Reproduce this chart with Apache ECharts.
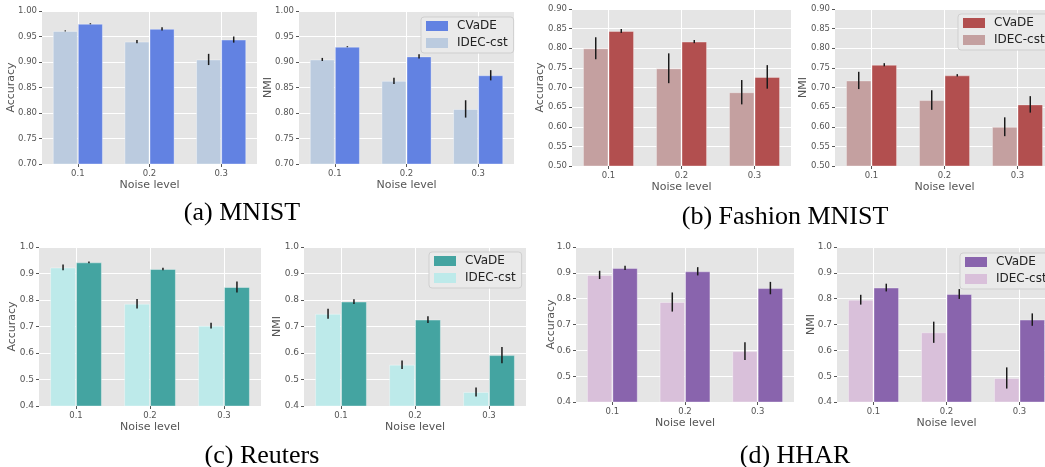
<!DOCTYPE html>
<html>
<head>
<meta charset="utf-8">
<script src="https://cdn.jsdelivr.net/npm/echarts@6/dist/echarts.min.js"></script>
<style>
  html, body { margin: 0; padding: 0; background: #fff; }
  #echarts { width: 1045px; height: 467px; }
</style>
</head>
<body>
<div id="echarts"></div>
<script>
var noiseLevels = ['0.1', '0.2', '0.3'];

// (a) MNIST
var mnistAccIdec = [0.961, 0.940, 0.905];
var mnistAccIdecErr = [0.001, 0.003, 0.011];
var mnistAccCvade = [0.975, 0.965, 0.944];
var mnistAccCvadeErr = [0.001, 0.003, 0.006];
var mnistNmiIdec = [0.905, 0.863, 0.808];
var mnistNmiIdecErr = [0.003, 0.006, 0.017];
var mnistNmiCvade = [0.930, 0.911, 0.874];
var mnistNmiCvadeErr = [0.001, 0.004, 0.010];
// (b) Fashion MNIST
var fashionAccIdec = [0.800, 0.749, 0.688];
var fashionAccIdecErr = [0.028, 0.038, 0.031];
var fashionAccCvade = [0.844, 0.817, 0.727];
var fashionAccCvadeErr = [0.005, 0.004, 0.030];
var fashionNmiIdec = [0.718, 0.668, 0.600];
var fashionNmiIdecErr = [0.022, 0.025, 0.024];
var fashionNmiCvade = [0.758, 0.731, 0.657];
var fashionNmiCvadeErr = [0.004, 0.003, 0.021];
// (c) Reuters
var reutersAccIdec = [0.923, 0.786, 0.703];
var reutersAccIdecErr = [0.011, 0.018, 0.011];
var reutersAccCvade = [0.942, 0.917, 0.849];
var reutersAccCvadeErr = [0.003, 0.005, 0.021];
var reutersNmiIdec = [0.748, 0.556, 0.453];
var reutersNmiIdecErr = [0.019, 0.016, 0.017];
var reutersNmiCvade = [0.794, 0.726, 0.592];
var reutersNmiCvadeErr = [0.009, 0.013, 0.031];
// (d) HHAR
var hharAccIdec = [0.892, 0.787, 0.597];
var hharAccIdecErr = [0.016, 0.037, 0.034];
var hharAccCvade = [0.919, 0.906, 0.841];
var hharAccCvadeErr = [0.008, 0.016, 0.024];
var hharNmiIdec = [0.796, 0.670, 0.493];
var hharNmiIdecErr = [0.019, 0.041, 0.041];
var hharNmiCvade = [0.843, 0.818, 0.719];
var hharNmiCvadeErr = [0.015, 0.019, 0.024];

var mnistColors = { cvade: '#6282e2', idec: '#bbcbdf' };
var fashionColors = { cvade: '#b24f4f', idec: '#c4a0a0' };
var reutersColors = { cvade: '#44a4a1', idec: '#bdeaea' };
var hharColors = { cvade: '#8964ad', idec: '#d9c0da' };

// box = [left, top, width, height]
var panels = [
    { box: [42, 11, 215, 153], yName: 'Accuracy', yGap: 25, min: 0.7, max: 1.0, step: 0.05, digits: 2, fs: 8.5,
      idec: mnistAccIdec, idecErr: mnistAccIdecErr, cvade: mnistAccCvade, cvadeErr: mnistAccCvadeErr, colors: mnistColors },
    { box: [299, 11, 215, 153], yName: 'NMI', yGap: 25, min: 0.7, max: 1.0, step: 0.05, digits: 2, fs: 8.5,
      idec: mnistNmiIdec, idecErr: mnistNmiIdecErr, cvade: mnistNmiCvade, cvadeErr: mnistNmiCvadeErr, colors: mnistColors,
      legend: [421, 17] },
    { box: [572, 9, 219, 157], yName: 'Accuracy', yGap: 26, min: 0.5, max: 0.9, step: 0.05, digits: 2, fs: 8.5,
      idec: fashionAccIdec, idecErr: fashionAccIdecErr, cvade: fashionAccCvade, cvadeErr: fashionAccCvadeErr, colors: fashionColors },
    { box: [835, 9, 219, 157], yName: 'NMI', yGap: 26.5, min: 0.5, max: 0.9, step: 0.05, digits: 2, fs: 8.5,
      idec: fashionNmiIdec, idecErr: fashionNmiIdecErr, cvade: fashionNmiCvade, cvadeErr: fashionNmiCvadeErr, colors: fashionColors,
      legend: [958, 14] },
    { box: [39, 247, 222, 159], yName: 'Accuracy', yGap: 21.5, min: 0.4, max: 1.0, step: 0.1, digits: 1, fs: 9,
      idec: reutersAccIdec, idecErr: reutersAccIdecErr, cvade: reutersAccCvade, cvadeErr: reutersAccCvadeErr, colors: reutersColors },
    { box: [304, 247, 222, 159], yName: 'NMI', yGap: 21, min: 0.4, max: 1.0, step: 0.1, digits: 1, fs: 9,
      idec: reutersNmiIdec, idecErr: reutersNmiIdecErr, cvade: reutersNmiCvade, cvadeErr: reutersNmiCvadeErr, colors: reutersColors,
      legend: [429, 252] },
    { box: [576, 247, 218, 155], yName: 'Accuracy', yGap: 19.5, min: 0.4, max: 1.0, step: 0.1, digits: 1, fs: 9,
      idec: hharAccIdec, idecErr: hharAccIdecErr, cvade: hharAccCvade, cvadeErr: hharAccCvadeErr, colors: hharColors },
    { box: [837, 247, 219, 155], yName: 'NMI', yGap: 20, min: 0.4, max: 1.0, step: 0.1, digits: 1, fs: 9,
      idec: hharNmiIdec, idecErr: hharNmiIdecErr, cvade: hharNmiCvade, cvadeErr: hharNmiCvadeErr, colors: hharColors,
      legend: [960, 253] }
];

var captions = [
    { text: '(a) MNIST', x: 242, y: 213 },
    { text: '(b) Fashion MNIST', x: 785, y: 217 },
    { text: '(c) Reuters', x: 262, y: 456 },
    { text: '(d) HHAR', x: 795, y: 456 }
];

var tickColor = '#555555';
var fontFamily = '"DejaVu Sans", sans-serif';

function errorBar(side) {
    return function (params, api) {
        var idx = api.value(0);
        var band = api.size([1, 0])[0];
        var cx = api.coord([idx, api.value(1)])[0] + side * band * 0.175;
        var lo = api.coord([idx, api.value(1) - api.value(2)])[1];
        var hi = api.coord([idx, api.value(1) + api.value(2)])[1];
        return {
            type: 'line',
            shape: { x1: cx, y1: lo, x2: cx, y2: hi },
            style: { stroke: '#1a1a1a', lineWidth: 1.5 }
        };
    };
}

function errData(vals, errs) {
    return vals.map(function (v, i) { return [i, v, errs[i]]; });
}

var grids = [], xAxes = [], yAxes = [], series = [], legends = [];

panels.forEach(function (p, k) {
    grids.push({
        left: p.box[0], top: p.box[1], width: p.box[2], height: p.box[3],
        show: true, backgroundColor: '#E5E5E5', borderWidth: 0,
        outerBoundsMode: 'none', containLabel: false
    });
    xAxes.push({
        type: 'category', gridIndex: k, data: noiseLevels,
        name: 'Noise level', nameLocation: 'middle', nameGap: 16, nameMoveOverlap: false,
        nameTextStyle: { fontSize: 11, color: tickColor, fontFamily: fontFamily },
        axisLine: { show: false },
        axisTick: { show: true, alignWithLabel: true, length: 3, lineStyle: { color: tickColor } },
        axisLabel: { fontSize: 8.5, color: tickColor, fontFamily: fontFamily, margin: 5 },
        splitLine: { show: true, alignWithLabel: true, lineStyle: { color: '#ffffff', width: 1 } }
    });
    yAxes.push({
        type: 'value', gridIndex: k, min: p.min, max: p.max, interval: p.step,
        name: p.yName, nameLocation: 'middle', nameGap: p.yGap, nameMoveOverlap: false,
        nameTextStyle: { fontSize: 11, color: tickColor, fontFamily: fontFamily },
        axisLine: { show: false },
        axisTick: { show: true, length: 3, lineStyle: { color: tickColor } },
        axisLabel: {
            fontSize: p.fs, color: tickColor, fontFamily: fontFamily, margin: 5,
            formatter: function (v) { return v.toFixed(p.digits); }
        },
        splitLine: { show: true, lineStyle: { color: '#ffffff', width: 1 } }
    });
    series.push({
        name: 'IDEC-cst', type: 'bar', xAxisIndex: k, yAxisIndex: k,
        data: p.idec, barWidth: '35%', barGap: '0%',
        itemStyle: { color: p.colors.idec, borderColor: 'rgba(255,255,255,0.35)', borderWidth: 1 }
    });
    series.push({
        name: 'CVaDE', type: 'bar', xAxisIndex: k, yAxisIndex: k,
        data: p.cvade, barWidth: '35%', barGap: '0%',
        itemStyle: { color: p.colors.cvade, borderColor: 'rgba(255,255,255,0.35)', borderWidth: 1 }
    });
    series.push({
        type: 'custom', xAxisIndex: k, yAxisIndex: k, z: 5,
        renderItem: errorBar(-1), encode: { x: 0, y: 1 },
        data: errData(p.idec, p.idecErr)
    });
    series.push({
        type: 'custom', xAxisIndex: k, yAxisIndex: k, z: 5,
        renderItem: errorBar(1), encode: { x: 0, y: 1 },
        data: errData(p.cvade, p.cvadeErr)
    });
    if (p.legend) {
        legends.push({
            left: p.legend[0], top: p.legend[1], orient: 'vertical',
            selectedMode: false, icon: 'rect',
            itemWidth: 22, itemHeight: 10, itemGap: 3,
            padding: [2, 6, 3, 5],
            backgroundColor: '#EAEAEA', borderColor: '#CFCFCF', borderWidth: 1, borderRadius: 3,
            textStyle: { fontSize: 12, color: '#222', fontFamily: fontFamily, lineHeight: 14, padding: [0, 0, 0, 4] },
            data: [
                { name: 'CVaDE', itemStyle: { color: p.colors.cvade, borderWidth: 0 } },
                { name: 'IDEC-cst', itemStyle: { color: p.colors.idec, borderWidth: 0 } }
            ]
        });
    }
});

var myChart = echarts.init(document.getElementById('echarts'));
var option = {
    animation: false,
    backgroundColor: '#ffffff',
    grid: grids,
    xAxis: xAxes,
    yAxis: yAxes,
    legend: legends,
    series: series,
    graphic: captions.map(function (c) {
        return {
            type: 'text', x: c.x, y: c.y,
            style: {
                text: c.text, fill: '#000', fontSize: 26,
                fontFamily: '"Liberation Serif", serif',
                align: 'center', verticalAlign: 'middle'
            }
        };
    })
};
myChart.setOption(option);
</script>
</body>
</html>
